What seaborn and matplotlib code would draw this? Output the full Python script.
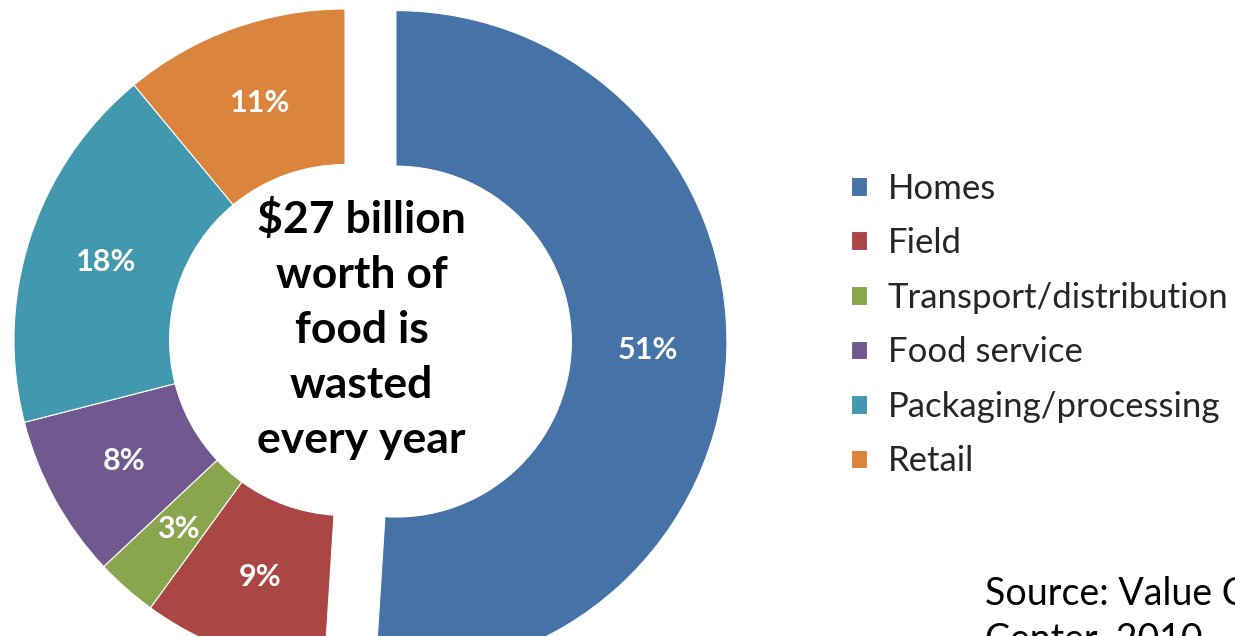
import matplotlib
matplotlib.use("Agg")
import matplotlib.pyplot as plt
import seaborn as sns

# data
categorias = ["Homes", "Field", "Transport/distribution", "Food service",
              "Packaging/processing", "Retail"]
percentuais = [51, 9, 3, 8, 18, 11]
cores = ["#4572A7", "#AA4643", "#89A54E", "#71588F", "#4198AF", "#DB843D"]
texto_centro = "$27 billion\nworth of\nfood is\nwasted\nevery year"
texto_fonte = "Source: Value Chain\nCenter, 2010"

sns.set_style("white")
plt.rcParams["font.family"] = ["Lato", "DejaVu Sans"]

fig = plt.figure(figsize=(12.35, 6.36), dpi=100)
ax = fig.add_axes([0, 0, 1, 1])

paleta = sns.color_palette(cores)
wedges, _, autotexts = ax.pie(
    percentuais,
    colors=paleta,
    startangle=90,
    counterclock=False,
    explode=[0.154, 0, 0, 0, 0, 0],
    radius=1.0,
    autopct=lambda p: f"{p:.0f}%",
    pctdistance=0.76,
    wedgeprops=dict(width=0.47, edgecolor="white", linewidth=0.8),
    textprops=dict(color="white", fontsize=22, fontweight="bold"),
)

# escala: 1 unidade = 331 px, centro em (345, 340)
ax.set_xlim(-345 / 331, (1235 - 345) / 331)
ax.set_ylim(-(636 - 340) / 331, 340 / 331)
ax.set_aspect("auto")
ax.axis("off")

ax.text(0.05, 0.033, texto_centro, ha="center", va="center", fontsize=32,
        fontweight="bold", color="black", linespacing=1.45)

leg = ax.legend(wedges, categorias, loc="center left",
                bbox_to_anchor=(0.664, 0.489), bbox_transform=fig.transFigure,
                frameon=False, fontsize=25, handlelength=0.45, handleheight=0.45,
                handletextpad=0.6, labelspacing=0.65)

fig.text(985 / 1235, 1 - 576 / 636, texto_fonte, ha="left", va="top",
         fontsize=27, color="black", linespacing=1.35)

plt.savefig("out.png", dpi=100)
plt.close()
